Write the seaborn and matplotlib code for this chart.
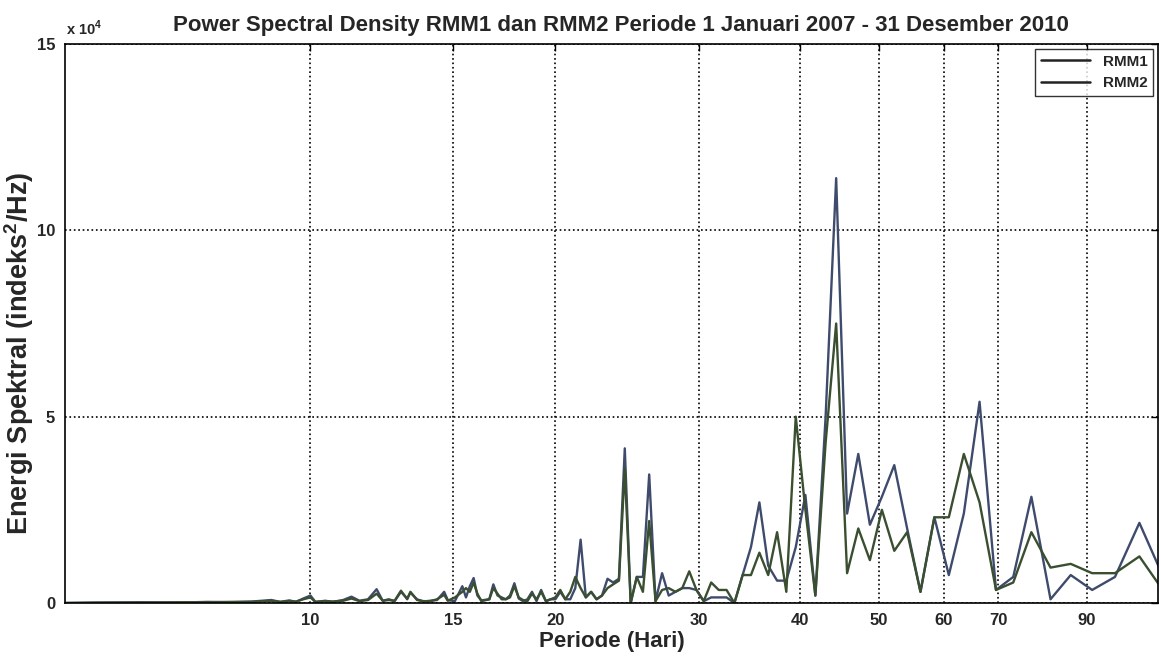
import matplotlib
matplotlib.use('Agg')
import matplotlib.pyplot as plt
from matplotlib.ticker import FixedLocator, FuncFormatter, NullLocator
import numpy as np
import pandas as pd
import seaborn as sns

# periode (hari), ascending
periode = [5.00, 5.49, 6.19, 6.89, 7.49, 7.98, 8.49, 8.96, 9.19, 9.43,
           9.61, 9.81, 10.01, 10.15, 10.44, 10.66, 10.98, 11.24, 11.50, 11.78,
           12.07, 12.28, 12.49, 12.70, 12.93, 13.16, 13.28, 13.53, 13.78, 14.05,
           14.32, 14.61, 14.76, 15.06, 15.38, 15.54, 15.71, 15.88, 16.05, 16.23,
           16.60, 16.79, 16.99, 17.19, 17.39, 17.60, 17.82, 18.04, 18.26, 18.49,
           18.73, 18.97, 19.22, 19.48, 19.74, 20.01, 20.29, 20.58, 20.87, 21.17,
           21.49, 21.81, 22.14, 22.48, 22.83, 23.19, 23.56, 23.95, 24.35, 24.76,
           25.19, 25.63, 26.09, 26.56, 27.06, 27.57, 28.10, 28.65, 29.22, 29.82,
           30.44, 31.09, 31.76, 32.47, 33.20, 33.98, 34.79, 35.63, 36.53, 37.46,
           38.45, 39.49, 40.58, 41.74, 42.97, 44.27, 45.66, 47.13, 48.70, 50.38,
           52.18, 54.11, 56.19, 58.44, 60.88, 63.52, 66.41, 69.57, 73.05, 76.89,
           81.17, 85.94, 91.31, 97.40, 104.36, 112.38]

# energi spektral, x 10^4
rmm1 = [0.00, 0.01, 0.02, 0.01, 0.03, 0.02, 0.04, 0.08, 0.03, 0.07,
        0.03, 0.12, 0.20, 0.03, 0.06, 0.03, 0.08, 0.17, 0.06, 0.10,
        0.37, 0.06, 0.10, 0.05, 0.30, 0.12, 0.28, 0.10, 0.04, 0.06,
        0.08, 0.30, 0.08, 0.05, 0.45, 0.15, 0.45, 0.67, 0.20, 0.07,
        0.10, 0.50, 0.20, 0.15, 0.10, 0.20, 0.53, 0.12, 0.05, 0.10,
        0.30, 0.05, 0.35, 0.05, 0.10, 0.10, 0.30, 0.10, 0.10, 0.40,
        1.70, 0.15, 0.30, 0.10, 0.20, 0.65, 0.55, 0.65, 4.15, 0.00,
        0.70, 0.70, 3.45, 0.05, 0.80, 0.20, 0.30, 0.40, 0.40, 0.35,
        0.05, 0.15, 0.15, 0.15, 0.00, 0.75, 1.50, 2.70, 1.00, 0.60,
        0.60, 1.50, 2.90, 0.20, 5.00, 11.40, 2.40, 4.00, 2.10, 2.85,
        3.70, 2.00, 0.30, 2.30, 0.75, 2.40, 5.40, 0.35, 0.70, 2.85,
        0.10, 0.75, 0.35, 0.70, 2.15, 0.56]

rmm2 = [0.00, 0.01, 0.01, 0.02, 0.02, 0.03, 0.03, 0.06, 0.03, 0.05,
        0.04, 0.10, 0.15, 0.03, 0.05, 0.04, 0.06, 0.12, 0.05, 0.08,
        0.25, 0.06, 0.08, 0.06, 0.33, 0.10, 0.30, 0.08, 0.05, 0.05,
        0.10, 0.22, 0.06, 0.15, 0.30, 0.40, 0.30, 0.55, 0.25, 0.05,
        0.10, 0.40, 0.25, 0.10, 0.10, 0.15, 0.45, 0.15, 0.08, 0.05,
        0.25, 0.10, 0.30, 0.05, 0.10, 0.15, 0.35, 0.10, 0.30, 0.70,
        0.40, 0.15, 0.30, 0.10, 0.20, 0.40, 0.50, 0.60, 3.60, 0.00,
        0.70, 0.30, 2.20, 0.05, 0.35, 0.40, 0.30, 0.40, 0.85, 0.35,
        0.05, 0.55, 0.35, 0.35, 0.00, 0.75, 0.75, 1.35, 0.75, 1.90,
        0.30, 5.00, 2.50, 0.20, 4.30, 7.50, 0.80, 2.00, 1.15, 2.50,
        1.40, 1.90, 0.30, 2.30, 2.30, 4.00, 2.70, 0.35, 0.55, 1.90,
        0.95, 1.05, 0.80, 0.80, 1.25, 0.24]

xticks = [10, 15, 20, 30, 40, 50, 60, 70, 90]
yticks = [0, 5e4, 10e4, 15e4]

df = pd.concat([
    pd.DataFrame({'Periode': periode, 'Energi': np.array(rmm1) * 1e4, 'Seri': 'RMM1'}),
    pd.DataFrame({'Periode': periode, 'Energi': np.array(rmm2) * 1e4, 'Seri': 'RMM2'}),
])

sns.set_style('white')
plt.rcParams['font.family'] = ['Liberation Sans', 'DejaVu Sans']
plt.rcParams['font.weight'] = 'bold'
plt.rcParams['mathtext.fontset'] = 'custom'
plt.rcParams['mathtext.rm'] = 'Liberation Sans:bold'
plt.rcParams['mathtext.bf'] = 'Liberation Sans:bold'

fig = plt.figure(figsize=(11.61, 6.57), dpi=100)
ax = fig.add_axes([65 / 1161, 1 - 603 / 657, (1158 - 65) / 1161, (603 - 44) / 657])

sns.lineplot(data=df, x='Periode', y='Energi', hue='Seri', ax=ax,
             palette={'RMM1': '#3e4b6c', 'RMM2': '#3a4e30'},
             sort=False, estimator=None, linewidth=1.7)

ax.set_xscale('log')
ax.set_xlim(5, 110)
ax.set_ylim(0, 15e4)
ax.xaxis.set_major_locator(FixedLocator(xticks))
ax.xaxis.set_minor_locator(NullLocator())
ax.xaxis.set_major_formatter(FuncFormatter(lambda v, p: '%d' % v))
ax.yaxis.set_major_locator(FixedLocator(yticks))
ax.yaxis.set_major_formatter(FuncFormatter(lambda v, p: '%d' % round(v / 1e4)))

ax.grid(True, which='major', linestyle=':', color='black', linewidth=1.2)
ax.tick_params(direction='in', top=True, right=True, length=5, width=1,
               labelsize=12, pad=7, color='black')
for s in ax.spines.values():
    s.set_color('black')
    s.set_linewidth(1.2)

ax.set_xlabel('Periode (Hari)', fontsize=16, fontweight='bold', labelpad=2)
ax.set_ylabel('Energi Spektral (indeks$^{2}$/Hz)', fontsize=19.5, fontweight='bold')
ax.yaxis.set_label_coords(-0.0265, 0.447)
ax.set_title('Power Spectral Density RMM1 dan RMM2 Periode 1 Januari 2007 - 31 Desember 2010',
             fontsize=16, fontweight='bold', pad=9, x=0.509)
fig.text(66 / 1161, 1 - 38 / 657, 'x 10$^{4}$', fontsize=10.5, fontweight='bold', va='bottom')

leg = ax.legend(loc='upper right', frameon=True, fancybox=False, edgecolor='black',
                fontsize=11, handlelength=3.2, borderaxespad=0.3, title=None)
leg.get_frame().set_linewidth(1.0)
for line in leg.get_lines():
    line.set_linewidth(1.8)
    line.set_color('#222222')

fig.savefig('out.png', dpi=100)
